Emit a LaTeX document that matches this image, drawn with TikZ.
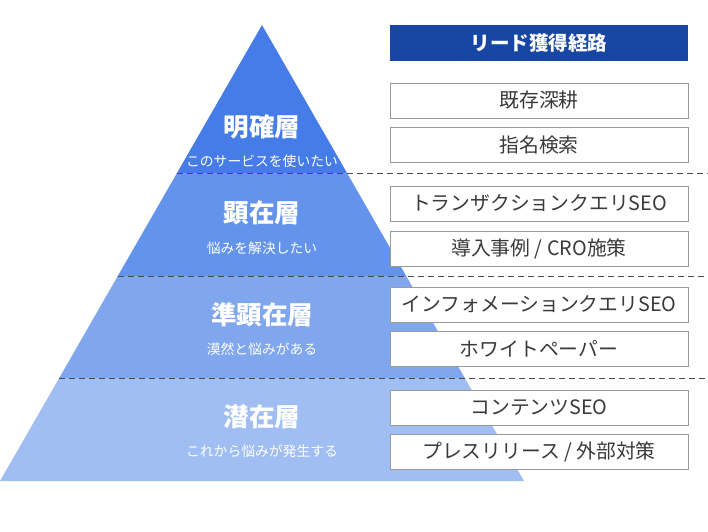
\documentclass[tikz,border=0pt]{standalone}
\usepackage{fontspec}
\newfontfamily\jp{Noto Sans CJK JP}
\definecolor{tierA}{HTML}{457CE8}
\definecolor{tierB}{HTML}{6393EB}
\definecolor{tierC}{HTML}{80A6EE}
\definecolor{tierD}{HTML}{A0BEF2}
\definecolor{headblue}{HTML}{1847A3}
\definecolor{boxline}{HTML}{9A9A9A}
\definecolor{boxtext}{HTML}{3A3A3A}
\definecolor{dashgray}{HTML}{4A4A4A}
\tikzset{
  tiertitle/.style={text=white,font=\jp\bfseries\fontsize{25.5}{28}\selectfont,inner sep=0pt},
  tiersub/.style={text=white,font=\jp\fontsize{13.8}{16}\selectfont,inner sep=0pt},
  routebox/.style={draw=boxline,line width=0.9pt,fill=white,minimum width=298pt,minimum height=35pt,inner sep=0pt,text=boxtext,font=\jp\fontsize{19.8}{22}\selectfont},
  headbox/.style={fill=headblue,minimum width=298pt,minimum height=36pt,inner sep=0pt,text=white,font=\jp\bfseries\fontsize{19.5}{22}\selectfont},
  sepline/.style={draw=dashgray,line width=0.9pt,dash pattern=on 6pt off 4pt}
}
\begin{document}
\begin{tikzpicture}[x=1pt,y=-1pt]
\useasboundingbox (0,0) rectangle (708,531);
% pyramid tiers
\fill[tierA] (262,25) -- (347.3,173.5) -- (176.7,173.5) -- cycle;
\fill[tierB] (176.7,173.5) -- (347.3,173.5) -- (406.2,276) -- (117.8,276) -- cycle;
\fill[tierC] (117.8,276) -- (406.2,276) -- (464.8,378) -- (59.2,378) -- cycle;
\fill[tierD] (59.2,378) -- (464.8,378) -- (524,481) -- (0,481) -- cycle;
% separators
\coordinate (s1a) at (176.7,173.5); \coordinate (s1b) at (708,173.5);
\coordinate (s2a) at (117.8,276);   \coordinate (s2b) at (708,276);
\coordinate (s3a) at (59.2,378);    \coordinate (s3b) at (708,378);
\draw[sepline] (s1a) -- (s1b);
\draw[sepline] (s2a) -- (s2b);
\draw[sepline] (s3a) -- (s3b);
% tier labels
\node[tiertitle] (t1) at (262,127) {明確層};
\node[tiersub]   (u1) at (262,161) {このサービスを使いたい};
\node[tiertitle] (t2) at (262,213) {顕在層};
\node[tiersub]   (u2) at (262,248) {悩みを解決したい};
\node[tiertitle] (t3) at (262,315) {準顕在層};
\node[tiersub]   (u3) at (262,349) {漠然と悩みがある};
\node[tiertitle] (t4) at (262,417) {潜在層};
\node[tiersub]   (u4) at (262,451) {これから悩みが発生する};
% route boxes
\node[headbox]  (h)  at (539,43) {リード獲得経路};
\node[routebox] (b1) at (539,100.5) {既存深耕};
\node[routebox] (b2) at (539,144.5) {指名検索};
\node[routebox] (b3) at (539,203.5) {トランザクションクエリSEO};
\node[routebox] (b4) at (539,248.5) {導入事例 / CRO施策};
\node[routebox] (b5) at (539,304.5) {インフォメーションクエリSEO};
\node[routebox] (b6) at (539,349) {ホワイトペーパー};
\node[routebox] (b7) at (539,408) {コンテンツSEO};
\node[routebox] (b8) at (539,452) {プレスリリース / 外部対策};
\end{tikzpicture}
\end{document}
